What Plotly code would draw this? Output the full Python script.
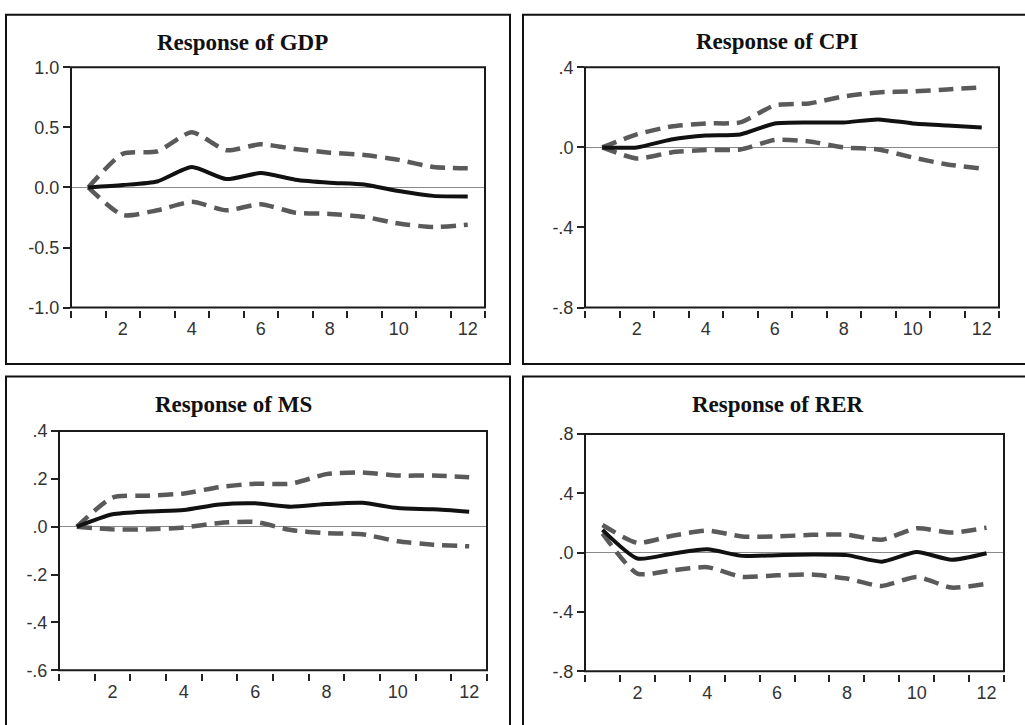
import plotly.graph_objects as go

W, H = 1025, 725

periods = list(range(1, 13))

# Response of GDP
gdp_resp = [0.0, 0.02, 0.05, 0.17, 0.07, 0.12, 0.065, 0.04, 0.025, -0.03, -0.07, -0.075]
gdp_upper = [0.0, 0.28, 0.30, 0.46, 0.31, 0.36, 0.32, 0.29, 0.27, 0.23, 0.17, 0.16]
gdp_lower = [0.0, -0.23, -0.19, -0.12, -0.19, -0.14, -0.21, -0.22, -0.245, -0.30, -0.33, -0.31]

# Response of CPI
cpi_resp = [0.0, 0.0, 0.04, 0.06, 0.065, 0.12, 0.125, 0.125, 0.14, 0.12, 0.11, 0.10]
cpi_upper = [0.0, 0.065, 0.105, 0.12, 0.125, 0.21, 0.22, 0.255, 0.275, 0.28, 0.29, 0.30]
cpi_lower = [0.0, -0.055, -0.025, -0.013, -0.01, 0.037, 0.03, 0.0, -0.01, -0.05, -0.085, -0.105]

# Response of MS
ms_resp = [0.0, 0.052, 0.064, 0.07, 0.093, 0.098, 0.084, 0.095, 0.10, 0.078, 0.073, 0.063]
ms_upper = [0.0, 0.122, 0.13, 0.139, 0.166, 0.18, 0.18, 0.22, 0.227, 0.214, 0.214, 0.207]
ms_lower = [0.0, -0.011, -0.011, -0.003, 0.016, 0.02, -0.014, -0.027, -0.031, -0.061, -0.075, -0.082]

# Response of RER
rer_resp = [0.153, -0.04, -0.007, 0.022, -0.022, -0.017, -0.013, -0.017, -0.061, 0.004, -0.048, -0.004]
rer_upper = [0.186, 0.066, 0.114, 0.148, 0.109, 0.109, 0.12, 0.12, 0.087, 0.164, 0.135, 0.168]
rer_lower = [0.13, -0.142, -0.12, -0.098, -0.164, -0.153, -0.148, -0.175, -0.225, -0.164, -0.236, -0.21]

titles = ["Response of GDP", "Response of CPI", "Response of MS", "Response of RER"]

gdp_ticks = [-1.0, -0.5, 0.0, 0.5, 1.0]
gdp_ticktext = ["-1.0", "-0.5", "0.0", "0.5", "1.0"]
cpi_ticks = [-0.8, -0.4, 0.0, 0.4]
cpi_ticktext = ["-.8", "-.4", ".0", ".4"]
ms_ticks = [-0.6, -0.4, -0.2, 0.0, 0.2, 0.4]
ms_ticktext = ["-.6", "-.4", "-.2", ".0", ".2", ".4"]
rer_ticks = [-0.8, -0.4, 0.0, 0.4, 0.8]
rer_ticktext = ["-.8", "-.4", ".0", ".4", ".8"]

x_labels_vals = [2, 4, 6, 8, 10, 12]
x_labels_text = ["2", "4", "6", "8", "10", "12"]
x_boundaries = [i + 0.5 for i in range(0, 13)]

panels = [
    dict(resp=gdp_resp, up=gdp_upper, lo=gdp_lower, yt=gdp_ticks, ytt=gdp_ticktext,
         yr=[-1.0, 1.0], px=(71, 485), py=(59, 306), title=titles[0], tx=242, ty=33,
         box=(6, 510, 5, 364)),
    dict(resp=cpi_resp, up=cpi_upper, lo=cpi_lower, yt=cpi_ticks, ytt=cpi_ticktext,
         yr=[-0.8, 0.4], px=(585, 999), py=(59, 306), title=titles[1], tx=777, ty=32,
         box=(523, 1040, 5, 364)),
    dict(resp=ms_resp, up=ms_upper, lo=ms_lower, yt=ms_ticks, ytt=ms_ticktext,
         yr=[-0.6, 0.4], px=(59, 487), py=(433, 679), title=titles[2], tx=233, ty=406,
         box=(6, 510, 377, 760)),
    dict(resp=rer_resp, up=rer_upper, lo=rer_lower, yt=rer_ticks, ytt=rer_ticktext,
         yr=[-0.8, 0.8], px=(585, 1004), py=(436, 680), title=titles[3], tx=778, ty=406,
         box=(523, 1040, 377, 760)),
]

fig = go.Figure()
shapes = []
annotations = []
layout = {}

band_color = "#5a5a5a"
tick_font = dict(family="Liberation Sans, Arial, sans-serif", size=18, color="#333333")

for i, p in enumerate(panels, start=1):
    xa = "x" if i == 1 else f"x{i}"
    ya = "y" if i == 1 else f"y{i}"
    for series, style in ((p["up"], "band"), (p["lo"], "band"), (p["resp"], "resp")):
        if style == "band":
            line = dict(color=band_color, width=4.5, dash="15px,8px", shape="spline", smoothing=0.6)
        else:
            line = dict(color="#111111", width=4, shape="spline", smoothing=0.6)
        fig.add_trace(go.Scatter(x=periods, y=series, mode="lines", line=line,
                                 xaxis=xa, yaxis=ya, showlegend=False, hoverinfo="skip"))
    x0, x1 = p["px"]
    y0, y1 = p["py"]
    layout[f"xaxis{'' if i == 1 else i}"] = dict(
        domain=[x0 / W, x1 / W], range=[0.5, 12.5], anchor="free",
        position=1 - (y1 + 3) / H,
        showline=False, showgrid=False, zeroline=False,
        tickmode="array", tickvals=x_labels_vals, ticktext=x_labels_text,
        ticks="outside", ticklen=2, tickcolor="rgba(0,0,0,0)", tickwidth=2,
        minor=dict(tickmode="array", tickvals=x_boundaries, ticks="outside",
                   ticklen=7, tickwidth=2, tickcolor="#222222", showgrid=False),
        tickfont=tick_font, fixedrange=True,
    )
    layout[f"yaxis{'' if i == 1 else i}"] = dict(
        domain=[1 - y1 / H, 1 - y0 / H], range=p["yr"], anchor=xa,
        showline=False, showgrid=False,
        zeroline=True, zerolinecolor="#8a8a8a", zerolinewidth=1,
        tickmode="array", tickvals=p["yt"], ticktext=p["ytt"],
        ticks="outside", ticklen=7, tickwidth=2, tickcolor="#222222",
        tickfont=tick_font, fixedrange=True,
    )
    shapes.append(dict(type="rect", xref=f"{xa} domain", yref=f"{ya} domain",
                       x0=0, x1=1, y0=0, y1=1, line=dict(color="#1a1a1a", width=2),
                       fillcolor="rgba(0,0,0,0)", layer="above"))
    bx0, bx1, by0, by1 = p["box"]
    shapes.append(dict(type="rect", xref="paper", yref="paper",
                       x0=bx0 / W, x1=bx1 / W, y0=1 - by1 / H, y1=1 - by0 / H,
                       line=dict(color="#111111", width=2), fillcolor="rgba(0,0,0,0)"))
    annotations.append(dict(text=f"<b>{p['title']}</b>", xref="paper", yref="paper",
                            x=p["tx"] / W, y=1 - p["ty"] / H, xanchor="center", yanchor="middle",
                            showarrow=False,
                            font=dict(family="Liberation Serif, Times New Roman, serif",
                                      size=23, color="#111111")))

fig.update_layout(
    width=W, height=H,
    margin=dict(l=0, r=0, t=0, b=0),
    paper_bgcolor="white", plot_bgcolor="white",
    shapes=shapes, annotations=annotations,
    showlegend=False,
    **layout,
)

fig.write_html("out.html")
